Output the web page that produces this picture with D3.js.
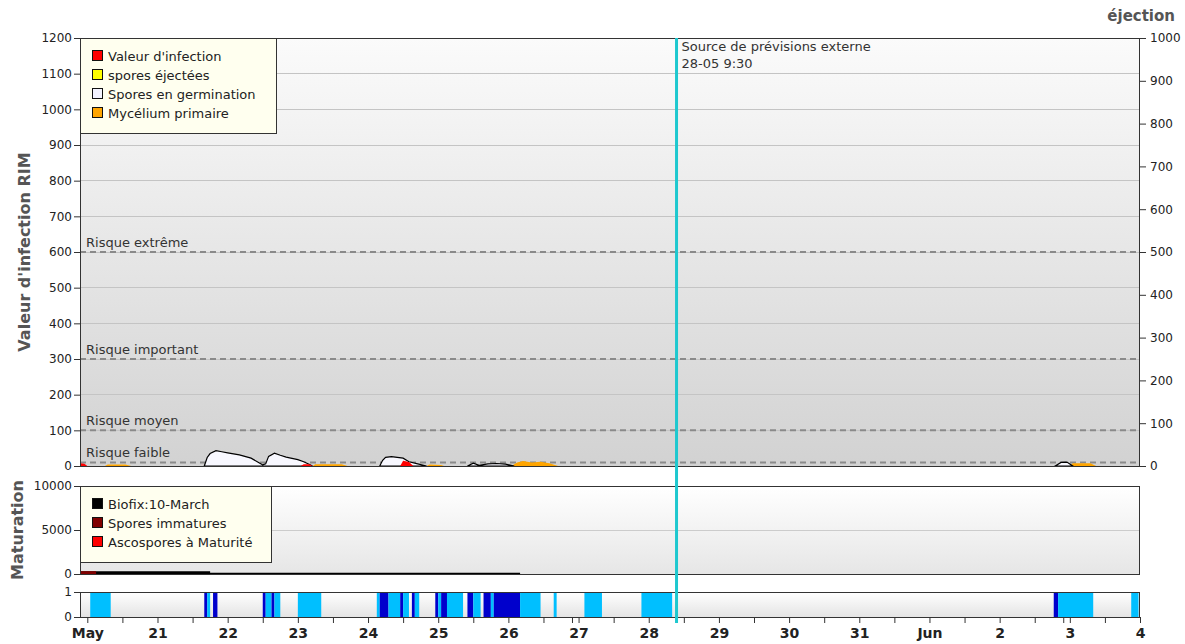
<!DOCTYPE html>
<html><head><meta charset="utf-8">
<script src="https://cdn.jsdelivr.net/npm/d3@7/dist/d3.min.js"></script>
<style>
body{margin:0;background:#fff;}
svg text{font-family:"DejaVu Sans",Verdana,sans-serif;fill:#222;}
</style></head><body>
<svg id="c" width="1185" height="644"></svg>
<script>
// ---------- DATA ----------
const YEAR = 2024;
const domainStart = "05-19 21:30", domainEnd = "06-04 00:00";
const forecastTime = "05-28 09:30";
const forecastLabel = ["Source de prévisions externe", "28-05 9:30"];

const leftTicks = [0,100,200,300,400,500,600,700,800,900,1000,1100,1200];
const rightTicks = [0,100,200,300,400,500,600,700,800,900,1000];
const maturationTicks = [0,5000,10000];
const wetTicks = [0,1];
const dayLabels = ["May","21","22","23","24","25","26","27","28","29","30","31","Jun","2","3","4"];
const extraTicks = ["05-26 21:45","06-02 21:45"];

const riskLevels = [10,100,300,600];
const riskLabels = ["Risque faible","Risque moyen","Risque important","Risque extrême"];

const legendMain = ["Valeur d'infection","spores éjectées","Spores en germination","Mycélium primaire"];
const legendMat = ["Biofix:10-March","Spores immatures","Ascospores à Maturité"];

// Spores en germination (null = gap)
const germination = [
  ["05-21 16:00",0],["05-21 17:00",24],["05-21 18:00",35],["05-21 20:00",43],["05-21 22:00",40],
  ["05-22 00:00",37],["05-22 04:00",31],["05-22 08:00",22],["05-22 11:00",8],["05-22 12:00",3],
  ["05-22 13:00",6],["05-22 14:00",27],["05-22 16:00",36],["05-22 18:00",30],["05-22 20:00",25],
  ["05-23 00:00",18],["05-23 02:00",12],["05-23 04:00",4],["05-23 05:00",0],
  null,
  ["05-24 04:00",0],["05-24 05:00",16],["05-24 06:00",24],["05-24 08:00",26],["05-24 10:00",24],
  ["05-24 12:00",22],["05-24 14:00",12],["05-24 17:00",6],["05-24 20:00",0],
  null,
  ["05-25 10:00",0],["05-25 12:00",8],["05-25 14:00",2],["05-25 17:00",6],["05-25 20:00",7],
  ["05-25 23:00",5],["05-26 02:00",0],
  null,
  ["06-02 19:00",0],["06-02 21:00",10],["06-02 23:00",11],["06-03 01:00",0]
];
// Valeur d'infection
const infection = [
  ["05-19 21:30",8],["05-19 23:00",6],["05-20 00:00",0],
  null,
  ["05-23 01:00",0],["05-23 02:00",5],["05-23 04:00",5],["05-23 05:00",0],
  null,
  ["05-24 11:00",0],["05-24 12:00",15],["05-24 14:00",11],["05-24 15:30",0]
];
// spores éjectées
const ejected = [];
// Mycélium primaire
const mycelium = [
  ["05-20 06:00",0],["05-20 07:00",4],["05-20 13:00",4],["05-20 15:00",0],
  null,
  ["05-23 05:00",0],["05-23 06:00",5],["05-23 15:00",5],["05-23 17:00",0],
  null,
  ["05-24 20:00",0],["05-24 21:00",4],["05-25 01:00",3],["05-25 02:00",0],
  null,
  ["05-26 01:00",0],["05-26 03:00",10],["05-26 05:00",14],["05-26 08:00",10],["05-26 11:00",12],
  ["05-26 14:00",8],["05-26 17:00",0],
  null,
  ["06-03 00:00",0],["06-03 01:00",8],["06-03 07:00",8],["06-03 09:00",0]
];

// Maturation
const biofix = [["05-19 21:30",300],["05-21 18:00",300],["05-21 18:00",150],["05-26 04:00",150],["05-26 04:00",0]];
const immature = [["05-19 21:30",320],["05-20 03:00",320],["05-20 03:00",0]];
const mature = [];

// Wetness bars: [start, end, level] level 1 = light, 2 = dark
const wetSegments = [
  ["05-20 01:00","05-20 08:00",1],
  ["05-21 16:00","05-21 17:00",2],["05-21 17:00","05-21 18:00",1],["05-21 19:00","05-21 20:30",2],
  ["05-22 12:00","05-22 13:00",2],["05-22 13:00","05-22 15:00",1],["05-22 15:00","05-22 16:00",2],["05-22 16:00","05-22 18:00",1],
  ["05-23 00:00","05-23 08:00",1],
  ["05-24 03:00","05-24 04:00",1],["05-24 04:00","05-24 07:00",2],["05-24 07:00","05-24 11:00",1],
  ["05-24 11:00","05-24 12:00",2],["05-24 12:00","05-24 14:00",1],["05-24 15:00","05-24 16:00",2],
  ["05-24 16:00","05-24 17:30",1],["05-24 23:00","05-25 00:00",2],["05-25 00:00","05-25 01:00",1],
  ["05-25 01:00","05-25 03:00",2],["05-25 03:00","05-25 08:30",1],["05-25 10:00","05-25 12:00",2],
  ["05-25 12:00","05-25 14:30",1],["05-25 15:30","05-25 18:00",2],["05-25 18:00","05-25 19:00",1],
  ["05-25 19:00","05-26 04:00",2],["05-26 04:00","05-26 11:00",1],["05-26 15:30","05-26 16:30",1],
  ["05-27 02:00","05-27 08:00",1],["05-27 21:30","05-28 08:00",1],
  ["06-02 18:30","06-02 20:00",2],["06-02 20:00","06-03 08:00",1],["06-03 21:00","06-03 23:30",1]
];

// ---------- DRAW ----------
const parse = s => d3.timeParse("%Y-%m-%d %H:%M")(YEAR + "-" + s);
const svg = d3.select("#c");
const L = 80, R = 1140;
const M = {top:38, bottom:466}, MT = {top:486, bottom:574}, W = {top:592, bottom:617};

const x = d3.scaleTime().domain([parse(domainStart), parse(domainEnd)]).range([L, R]);
const yL = d3.scaleLinear().domain([0,1200]).range([M.bottom, M.top]);
const yR = d3.scaleLinear().domain([0,1000]).range([M.bottom, M.top]);
const yM = d3.scaleLinear().domain([0,10000]).range([MT.bottom, MT.top]);
const yW = d3.scaleLinear().domain([0,1]).range([W.bottom, W.top]);

const defs = svg.append("defs");
function grad(id, c0, c1){
  const g = defs.append("linearGradient").attr("id", id).attr("x1",0).attr("y1",0).attr("x2",0).attr("y2",1);
  g.append("stop").attr("offset","0%").attr("stop-color", c0);
  g.append("stop").attr("offset","100%").attr("stop-color", c1);
}
grad("gMain", "#fbfbfb", "#d2d2d2");
grad("gMat", "#ffffff", "#e6e6e6");
grad("gWet", "#ffffff", "#e4e4e4");

// backgrounds
svg.append("rect").attr("x",L).attr("y",M.top).attr("width",R-L).attr("height",M.bottom-M.top).attr("fill","url(#gMain)");
svg.append("rect").attr("x",L).attr("y",MT.top).attr("width",R-L).attr("height",MT.bottom-MT.top).attr("fill","url(#gMat)");
svg.append("rect").attr("x",L).attr("y",W.top).attr("width",R-L).attr("height",W.bottom-W.top).attr("fill","url(#gWet)");

// gridlines
svg.append("g").selectAll("line").data(leftTicks.filter(d=>d>0 && d<1200)).join("line")
  .attr("x1",L).attr("x2",R).attr("y1",d=>yL(d)).attr("y2",d=>yL(d))
  .attr("stroke","#c4c4c4").attr("stroke-width",1).attr("shape-rendering","crispEdges");
svg.append("g").selectAll("line").data(maturationTicks.filter(d=>d>0 && d<10000)).join("line")
  .attr("x1",L).attr("x2",R).attr("y1",d=>yM(d)).attr("y2",d=>yM(d))
  .attr("stroke","#cccccc").attr("stroke-width",1).attr("shape-rendering","crispEdges");

// risk lines
const rg = svg.append("g");
rg.selectAll("line").data(riskLevels).join("line")
  .attr("x1",L).attr("x2",R).attr("y1",d=>yL(d)).attr("y2",d=>yL(d))
  .attr("stroke","#8a8a8a").attr("stroke-width",2).attr("stroke-dasharray","6,4");
rg.selectAll("text").data(riskLevels).join("text")
  .attr("x",L+6).attr("y",d=>yL(d)-5).attr("font-size",13).style("fill","#333")
  .text((d,i)=>riskLabels[i]);

// series areas
const pts = arr => arr.map(d => d ? {t:parse(d[0]), v:d[1]} : null);
const areaMain = d3.area().defined(d=>d!==null).x(d=>x(d.t)).y0(yL(0)).y1(d=>yL(d.v));
const areaMat = d3.area().defined(d=>d!==null).x(d=>x(d.t)).y0(yM(0)).y1(d=>yM(d.v));

svg.append("path").datum(pts(mycelium)).attr("d",areaMain).attr("fill","#ffa500");
svg.append("path").datum(pts(germination)).attr("d",areaMain).attr("fill","#f8f8ff")
  .attr("stroke","#000").attr("stroke-width",1.2);
svg.append("path").datum(pts(infection)).attr("d",areaMain).attr("fill","#ff0000");
svg.append("path").datum(pts(ejected)).attr("d",areaMain).attr("fill","#ffff00");

svg.append("path").datum(pts(biofix)).attr("d",areaMat).attr("fill","#000");
svg.append("path").datum(pts(immature)).attr("d",areaMat).attr("fill","#800000");
svg.append("path").datum(pts(mature)).attr("d",areaMat).attr("fill","#ff0000");

// wetness bars
svg.append("g").selectAll("rect").data(wetSegments).join("rect")
  .attr("x",d=>x(parse(d[0]))).attr("width",d=>x(parse(d[1]))-x(parse(d[0])))
  .attr("y",yW(1)).attr("height",yW(0)-yW(1))
  .attr("fill",d=>d[2]===2?"#0000cc":"#00bfff");

// frames
[[M.top,M.bottom],[MT.top,MT.bottom],[W.top,W.bottom]].forEach(([t,b])=>{
  svg.append("rect").attr("x",L+0.5).attr("y",t+0.5).attr("width",R-L-1).attr("height",b-t)
    .attr("fill","none").attr("stroke","#333").attr("stroke-width",1);
});

// axes
const fmt = d3.format("d");
function styleAxis(g){
  g.select(".domain").remove();
  g.selectAll(".tick line").attr("stroke","#333");
  g.selectAll(".tick text").attr("font-size",12).attr("font-family","DejaVu Sans").style("fill","#222");
}
svg.append("g").attr("transform",`translate(${L},0)`)
  .call(d3.axisLeft(yL).tickValues(leftTicks).tickFormat(fmt).tickSize(6).tickPadding(2)).call(styleAxis);
svg.append("g").attr("transform",`translate(${R},0)`)
  .call(d3.axisRight(yR).tickValues(rightTicks).tickFormat(fmt).tickSize(6).tickPadding(4)).call(styleAxis);
svg.append("g").attr("transform",`translate(${L},0)`)
  .call(d3.axisLeft(yM).tickValues(maturationTicks).tickFormat(fmt).tickSize(6).tickPadding(2)).call(styleAxis);
svg.append("g").attr("transform",`translate(${L},0)`)
  .call(d3.axisLeft(yW).tickValues(wetTicks).tickFormat(fmt).tickSize(6).tickPadding(2)).call(styleAxis);

// x axis
const days = d3.timeDay.range(parse("05-20 00:00"), d3.timeDay.offset(parse("06-04 00:00"),1));
const noons = days.slice(0,-1).map(d=>d3.timeHour.offset(d,12));
const xTickVals = days.concat(noons).concat(extraTicks.map(parse));
const xg = svg.append("g").attr("transform",`translate(0,${W.bottom})`)
  .call(d3.axisBottom(x).tickValues(xTickVals).tickSize(6).tickPadding(5)
    .tickFormat(d=>{ const i = days.findIndex(k=>+k===+d); return i>=0 ? dayLabels[i] : ""; }));
xg.select(".domain").remove();
xg.selectAll(".tick line").attr("stroke","#333");
xg.selectAll(".tick text").attr("font-size",14).attr("font-weight","bold").style("fill","#222");

// forecast line
const fx = x(parse(forecastTime));
svg.append("line").attr("x1",fx).attr("x2",fx).attr("y1",M.top).attr("y2",623)
  .attr("stroke","#1ec8cf").attr("stroke-width",3);
svg.append("g").selectAll("text").data(forecastLabel).join("text")
  .attr("x",fx+5).attr("y",(d,i)=>51+i*17).attr("font-size",13).style("fill","#333").text(d=>d);

// legends
function legend(y0, h, w, labels, colors){
  const g = svg.append("g");
  g.append("rect").attr("x",L+0.5).attr("y",y0+0.5).attr("width",w).attr("height",h)
    .attr("fill","#ffffef").attr("stroke","#333");
  labels.forEach((lab,i)=>{
    const cy = y0 + 18 + i*19;
    g.append("rect").attr("x",L+12.5).attr("y",cy-5.5).attr("width",10).attr("height",10)
      .attr("fill",colors[i]).attr("stroke","#111");
    g.append("text").attr("x",L+28).attr("y",cy+5).attr("font-size",13).style("fill","#222").text(lab);
  });
}
legend(M.top, 95, 196, legendMain, ["#ff0000","#ffff00","#f4f4ff","#ffa500"]);
legend(MT.top, 76, 191, legendMat, ["#000000","#800000","#ff0000"]);

// titles
svg.append("text").attr("transform",`translate(30,${(M.top+M.bottom)/2}) rotate(-90)`)
  .attr("text-anchor","middle").attr("font-size",16).attr("font-weight","bold").style("fill","#555")
  .text("Valeur d'infection RIM");
svg.append("text").attr("transform",`translate(23,${(MT.top+MT.bottom)/2}) rotate(-90)`)
  .attr("text-anchor","middle").attr("font-size",16).attr("font-weight","bold").style("fill","#555")
  .text("Maturation");
svg.append("text").attr("x",1175).attr("y",21).attr("text-anchor","end")
  .attr("font-size",15).attr("font-weight","bold").style("fill","#555").text("éjection");
</script>
</body></html>
